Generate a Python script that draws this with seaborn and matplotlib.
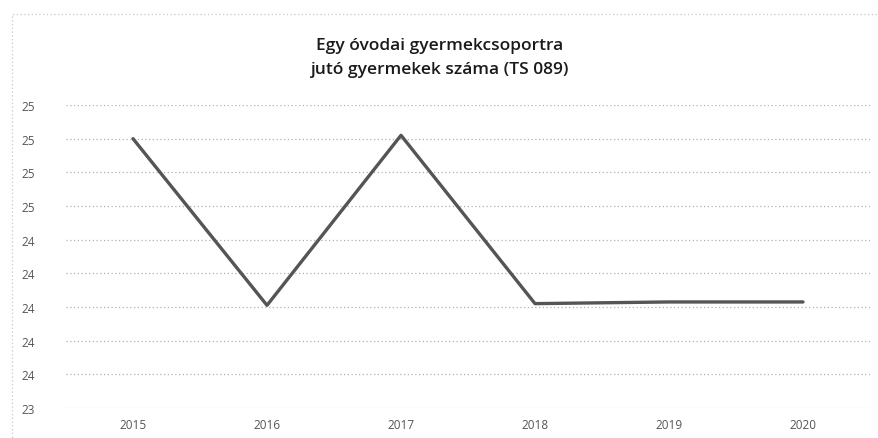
import matplotlib
matplotlib.use('Agg')
import matplotlib.pyplot as plt
import matplotlib.patches as mpatches
from matplotlib.ticker import FuncFormatter
import seaborn as sns
import pandas as pd

# values (Excel showed them rounded to whole numbers)
years = ['2015', '2016', '2017', '2018', '2019', '2020']
children = [25.0, 24.01, 25.02, 24.02, 24.03, 24.03]
y_ticks = [23.4, 23.6, 23.8, 24.0, 24.2, 24.4, 24.6, 24.8, 25.0, 25.2]

title = 'Egy óvodai gyermekcsoportra\njutó gyermekek száma (TS 089)'

df = pd.DataFrame({'year': years, 'children': children})

sns.set_style('white')
plt.rcParams['font.family'] = ['Open Sans', 'DejaVu Sans']

fig = plt.figure(figsize=(8.79, 4.39), dpi=100)
ax = fig.add_axes([66 / 879, 30 / 439, 804 / 879, 303 / 439])

sns.lineplot(data=df, x='year', y='children', ax=ax, color='#555555',
             linewidth=2.4, sort=False)

ax.set_xlim(-0.5, len(years) - 0.5)
ax.set_ylim(y_ticks[0], y_ticks[-1])
ax.set_yticks(y_ticks)
ax.yaxis.set_major_formatter(FuncFormatter(lambda v, p: '%.0f' % v))
ax.grid(axis='y', color='#b0b0b0', linestyle=(0, (1, 2)), linewidth=0.9)
ax.grid(axis='x', visible=False)
for s in ax.spines.values():
    s.set_visible(False)

ax.tick_params(axis='y', length=0, labelsize=8.5, labelcolor='#555555')
ax.tick_params(axis='x', length=0, pad=7, labelsize=8.5, labelcolor='#555555')
for lab in ax.get_yticklabels():
    lab.set_horizontalalignment('left')
ax.yaxis.set_tick_params(pad=32)
ax.set_xlabel('')
ax.set_ylabel('')

fig.text(0.5, 1 - 58 / 439, title, ha='center', va='center', fontsize=12.5,
         fontweight='semibold', color='#1a1a1a', linespacing=1.6)

# dotted chart-area border
fig.patches.append(mpatches.Rectangle((12 / 879, 0.0), 1 - 12 / 879, 1 - 15 / 439,
                                      transform=fig.transFigure, fill=False,
                                      edgecolor='#c8c8c8', linestyle=(0, (1, 2)),
                                      linewidth=0.9))

fig.savefig('out.png', dpi=100)
